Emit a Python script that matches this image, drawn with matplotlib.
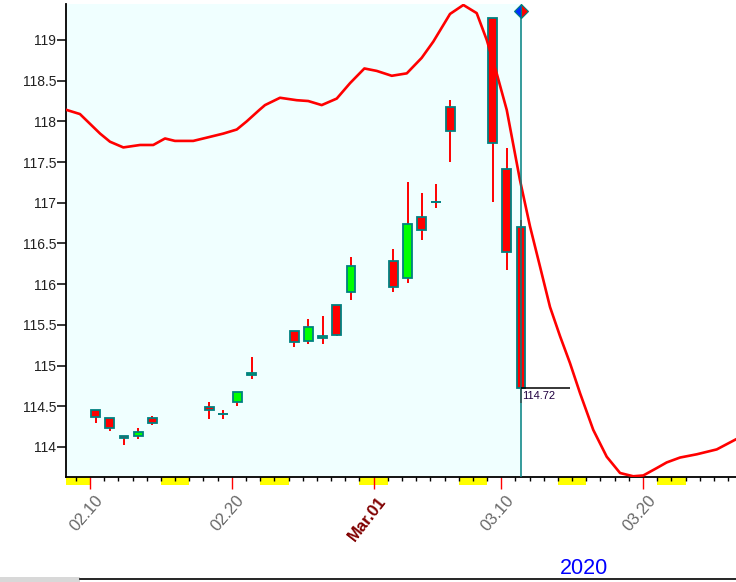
import matplotlib
matplotlib.use("Agg")
import matplotlib.pyplot as plt
import matplotlib.transforms as mtransforms
from matplotlib.lines import Line2D
from matplotlib.patches import Rectangle

plt.rcParams['font.family'] = ['Liberation Sans', 'DejaVu Sans']

# ---- data (day offsets from 2020-02-10) ----
days   = [0, 1, 2, 3, 4, 8, 9, 10, 11, 14, 15, 16, 17, 18, 21, 22, 23, 24, 25, 28, 29, 30]
opens  = [114.45, 114.35, 114.13, 114.13, 114.35, 114.49, 114.41, 114.55, 114.88, 115.43, 115.30,
          115.34, 115.75, 115.90, 116.29, 116.07, 116.83, 117.01, 118.18, 119.27, 117.41, 116.70]
highs  = [114.45, 114.35, 114.13, 114.23, 114.38, 114.55, 114.46, 114.67, 115.10, 115.43, 115.57,
          115.61, 115.75, 116.33, 116.43, 117.26, 117.12, 117.23, 118.26, 119.27, 117.67, 116.79]
lows   = [114.29, 114.19, 114.03, 114.10, 114.27, 114.34, 114.34, 114.50, 114.84, 115.23, 115.27,
          115.26, 115.36, 115.81, 115.90, 116.01, 116.54, 116.93, 117.50, 117.01, 116.17, 114.54]
closes = [114.365, 114.23, 114.11, 114.18, 114.30, 114.46, 114.41, 114.67, 114.905, 115.29, 115.47,
          115.36, 115.38, 116.22, 115.97, 116.74, 116.66, 117.01, 117.88, 117.73, 116.39, 114.72]

curve_days = [-1.64, -0.71, 0.0, 0.71, 1.41, 2.35, 3.53, 4.46, 5.29, 5.99, 7.28, 8.23, 9.40, 10.35,
              11.05, 11.94, 12.34, 13.40, 14.58, 15.39, 16.34, 17.40, 18.34, 19.35, 20.22, 21.28,
              22.34, 23.39, 24.21, 25.39, 26.33, 27.27, 27.98, 28.68, 29.39, 30.32, 31.03, 31.73,
              32.44, 33.15, 33.85, 34.56, 35.49, 36.44, 37.38, 38.31, 39.02, 39.96, 40.67, 41.61,
              42.79, 44.20, 45.51]
curve_vals = [118.14, 118.09, 117.97, 117.85, 117.75, 117.68, 117.71, 117.71, 117.79, 117.76, 117.76,
              117.80, 117.85, 117.90, 118.00, 118.14, 118.20, 118.29, 118.26, 118.25, 118.20, 118.28,
              118.47, 118.65, 118.62, 118.56, 118.59, 118.78, 118.98, 119.32, 119.43, 119.33, 119.00,
              118.59, 118.14, 117.28, 116.71, 116.22, 115.72, 115.36, 115.03, 114.66, 114.21, 113.88,
              113.68, 113.64, 113.65, 113.74, 113.81, 113.87, 113.91, 113.97, 114.09]

weekend_days = [-2, 5, 12, 19, 26, 33, 40]
major_days = [0, 10, 20, 29, 39]
major_labels = ['02.10', '02.20', 'Mar.01', '03.10', '03.20']
y_ticks = [114, 114.5, 115, 115.5, 116, 116.5, 117, 117.5, 118, 118.5, 119]
last_label = '114.72'
year_label = '2020'

# ---- figure ----
fig = plt.figure(figsize=(7.36, 5.82), dpi=100)
ax = fig.add_axes([66/736, 105/582, 670/736, 473/582])
xlo, xhi = -1.693, 45.557
ylo, yhi = 113.631, 119.442
ax.set_xlim(xlo, xhi)
ax.set_ylim(ylo, yhi)
ax.set_facecolor('white')

off = 0.4
xs = [d + off for d in days]
x_last = xs[-1]
ax.axvspan(xlo, x_last, color='#F0FFFF', zorder=0, lw=0)

teal = '#008080'
w = 0.62
for x, o, h, l, c in zip(xs, opens, highs, lows, closes):
    ax.vlines(x, l, h, color='red', lw=1.4, zorder=2)
    if abs(o - c) < 1e-9:
        ax.hlines(o, x - w/2 - 0.05, x + w/2 + 0.05, color=teal, lw=1.4, zorder=3)
    else:
        col = '#00FF00' if c > o else '#FF0000'
        ax.bar(x, abs(c - o), bottom=min(o, c), width=w, color=col,
               edgecolor=teal, linewidth=1.3, zorder=3)

ax.plot(curve_days, curve_vals, color='red', lw=1.9, zorder=4, solid_joinstyle='round')

# last-price cursor
ax.vlines(x_last, ylo, 119.35, color=teal, lw=1.1, zorder=5)
ax.plot([x_last], [119.35], marker='D', ms=7, fillstyle='left', markerfacecolor='#0030FF',
        markerfacecoloralt='red', markeredgecolor=teal, markeredgewidth=0.8, zorder=6, clip_on=False)
ax.hlines(closes[-1], x_last, 33.85, color='black', lw=1.1, zorder=5)
ax.text(x_last + 0.1, closes[-1] - 0.03, last_label, fontsize=8, color='#200040',
        ha='left', va='top', zorder=6)

# weekend markers under axis
trans = mtransforms.blended_transform_factory(ax.transData, ax.transAxes)
for d in weekend_days:
    for k in range(2):
        x0 = max(d + k, xlo)
        x1 = d + k + 1
        if x1 <= xlo:
            continue
        ax.add_patch(Rectangle((x0, -0.017), x1 - x0, 0.017, transform=trans,
                               facecolor='#FFFF00', edgecolor='none', clip_on=False, zorder=1))

# spines
for s in ['top', 'right']:
    ax.spines[s].set_visible(False)
ax.spines['left'].set_linewidth(1.3)
ax.spines['bottom'].set_linewidth(1.3)

# y ticks
ax.set_yticks(y_ticks)
ax.set_yticklabels([f'{v:g}' for v in y_ticks])
ax.tick_params(axis='y', length=6.5, width=1.1, pad=0.5, labelsize=10, labelcolor='#202020')

# x ticks
ax.set_xticks(range(-1, 46), minor=True)
ax.set_xticks(major_days)
ax.set_xticklabels(major_labels)
ax.tick_params(axis='x', which='minor', length=3, width=1.0, color='black')
ax.tick_params(axis='x', which='major', length=8.6, width=1.0, color='red', pad=6.5,
               labelsize=12, labelcolor='#686868')
shift = mtransforms.ScaledTranslation(10/100, 0, fig.dpi_scale_trans)
for lab in ax.get_xticklabels():
    lab.set_rotation(49)
    lab.set_rotation_mode('anchor')
    lab.set_ha('right')
    lab.set_va('center')
    lab.set_transform(lab.get_transform() + shift)
    if lab.get_text() == 'Mar.01':
        lab.set_color('#800000')
        lab.set_fontweight('bold')
        lab.set_fontsize(12)
        lab.set_rotation(52)

fig.text(584/736, 1 - 569/582, year_label, color='#0000FF', fontsize=15.5,
         ha='center', va='center')
fig.add_artist(Line2D([80/736, 1], [1 - 579/582] * 2, color='black', lw=1.2,
                      transform=fig.transFigure))
fig.add_artist(Rectangle((0, 0), 80/736, 5/582, transform=fig.transFigure,
                         facecolor='#D8D8D8', edgecolor='none'))

fig.savefig('out.png', dpi=100)
